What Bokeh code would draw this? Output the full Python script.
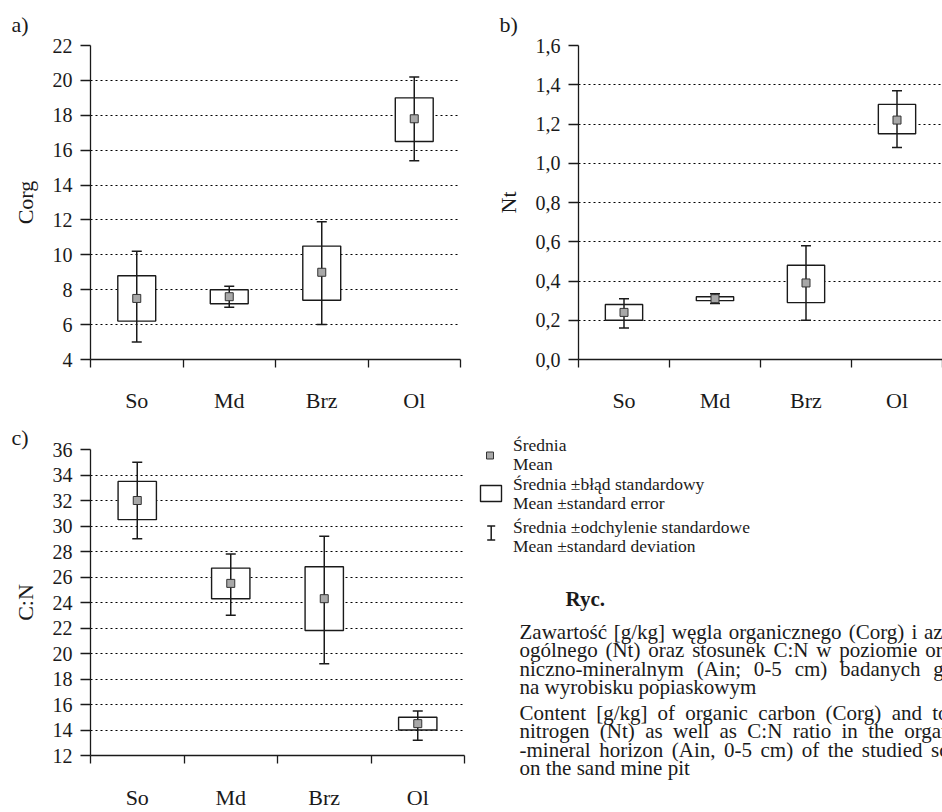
from bokeh.plotting import figure
from bokeh.models import (FactorRange, Range1d, LinearAxis, FixedTicker,
                          ColumnDataSource)
from bokeh.layouts import column, row
from bokeh.core.properties import value
from bokeh.embed import file_html
from bokeh.resources import INLINE

# ---------------- data ----------------
categories = ["So", "Md", "Brz", "Ol"]

corg_mean = [7.5, 7.6, 9.0, 17.8]
corg_se_low = [6.2, 7.2, 7.4, 16.5]
corg_se_high = [8.8, 8.0, 10.5, 19.0]
corg_sd_low = [5.0, 7.0, 6.0, 15.4]
corg_sd_high = [10.2, 8.2, 11.9, 20.2]

nt_mean = [0.24, 0.31, 0.39, 1.22]
nt_se_low = [0.20, 0.30, 0.29, 1.15]
nt_se_high = [0.28, 0.32, 0.48, 1.30]
nt_sd_low = [0.16, 0.285, 0.20, 1.08]
nt_sd_high = [0.31, 0.335, 0.58, 1.37]

cn_mean = [32.0, 25.5, 24.3, 14.5]
cn_se_low = [30.5, 24.3, 21.8, 14.0]
cn_se_high = [33.5, 26.7, 26.8, 15.0]
cn_sd_low = [29.0, 23.0, 19.2, 13.2]
cn_sd_high = [35.0, 27.8, 29.2, 15.5]

corg_ticks = [4, 6, 8, 10, 12, 14, 16, 18, 20, 22]
corg_tick_labels = ["4", "6", "8", "10", "12", "14", "16", "18", "20", "22"]
nt_ticks = [0.0, 0.2, 0.4, 0.6, 0.8, 1.0, 1.2, 1.4, 1.6]
nt_tick_labels = ["0,0", "0,2", "0,4", "0,6", "0,8", "1,0", "1,2", "1,4", "1,6"]
cn_ticks = [12, 14, 16, 18, 20, 22, 24, 26, 28, 30, 32, 34, 36]
cn_tick_labels = ["12", "14", "16", "18", "20", "22", "24", "26", "28", "30",
                  "32", "34", "36"]

legend_lines = ["Średnia", "Mean",
                "Średnia ±błąd standardowy", "Mean ±standard error",
                "Średnia ±odchylenie standardowe", "Mean ±standard deviation"]
caption_title = "Ryc."
caption_lines = [
    "Zawartość [g/kg] węgla organicznego (Corg) i azotu",
    "ogólnego (Nt) oraz stosunek C:N w poziomie orga-",
    "niczno-mineralnym (Ain; 0-5 cm) badanych gleb",
    "na wyrobisku popiaskowym",
    "Content [g/kg] of organic carbon (Corg) and total",
    "nitrogen (Nt) as well as C:N ratio in the organo-",
    "-mineral horizon (Ain, 0-5 cm) of the studied soils",
    "on the sand mine pit",
]
caption_justified = [True, True, True, False, True, True, True, False]

FONT = "Liberation Serif"
INK = "#1a1a1a"

# Times-compatible advance widths (1/1000 em) used to justify the caption
_W = {" ": 250, "(": 333, ")": 333, ",": 250, "-": 333, ".": 250, "/": 278,
      ":": 278, ";": 278, "[": 333, "]": 333, "±": 564,
      "A": 722, "C": 667, "N": 722, "Z": 611, "Ś": 556,
      "a": 444, "b": 500, "c": 444, "d": 500, "e": 444, "f": 333, "g": 500,
      "h": 500, "i": 278, "j": 278, "k": 500, "l": 278, "m": 778, "n": 500,
      "o": 500, "p": 500, "q": 500, "r": 333, "s": 389, "t": 278, "u": 500,
      "v": 500, "w": 722, "x": 500, "y": 500, "z": 444,
      "ą": 444, "ę": 444, "ś": 389, "ć": 444, "ł": 278, "ó": 500, "ż": 444,
      "ź": 444, "ń": 500}


def text_width(s, size):
    return sum(_W.get(ch, 500) for ch in s) * size / 1000.0


def make_panel(mean, se_lo, se_hi, sd_lo, sd_hi, yticks, ylabels, ylabel,
               yrange, width, height, borders, cat_standoff, letter,
               letter_standoff):
    L, R, T, B = borders
    p = figure(width=width, height=height,
               x_range=FactorRange(factors=categories),
               y_range=Range1d(*yrange),
               x_axis_type=None, toolbar_location=None, output_backend="svg",
               min_border_left=L, min_border_right=R,
               min_border_top=T, min_border_bottom=B)
    p.frame_align = False
    p.outline_line_color = None
    p.background_fill_color = "white"
    p.border_fill_color = "white"

    src = ColumnDataSource(dict(cat=categories, mean=mean, se_lo=se_lo,
                                se_hi=se_hi, sd_lo=sd_lo, sd_hi=sd_hi))
    p.vbar(x="cat", width=0.41, bottom="se_lo", top="se_hi", source=src,
           fill_color="white", line_color=INK, line_width=1.4)
    p.segment(x0="cat", y0="sd_lo", x1="cat", y1="sd_hi", source=src,
              line_color=INK, line_width=1.5)
    p.scatter(x="cat", y="sd_lo", marker="dash", size=10, source=src,
              line_color=INK, line_width=1.5)
    p.scatter(x="cat", y="sd_hi", marker="dash", size=10, source=src,
              line_color=INK, line_width=1.5)
    p.scatter(x="cat", y="mean", marker="square", size=8, source=src,
              fill_color="#a8a8a8", line_color="#333333", line_width=1)

    # y axis
    yax = p.yaxis[0]
    yax.ticker = FixedTicker(ticks=yticks)
    yax.major_label_overrides = dict(zip(yticks, ylabels))
    yax.axis_label = ylabel
    yax.axis_label_text_font = FONT
    yax.axis_label_text_font_size = "22px"
    yax.axis_label_text_font_style = "normal"
    yax.axis_label_text_color = INK
    yax.axis_label_standoff = 12
    yax.major_label_text_font = FONT
    yax.major_label_text_font_size = "20px"
    yax.major_label_text_color = INK
    yax.major_label_standoff = 8
    yax.major_tick_out = 10
    yax.major_tick_in = 0
    yax.minor_tick_out = 0
    yax.minor_tick_in = 0
    yax.axis_line_color = INK
    yax.axis_line_width = 1.3
    yax.major_tick_line_color = INK
    yax.major_tick_line_width = 1.3

    # x axis: labels at category centres, ticks at category boundaries
    centers = [i + 0.5 for i in range(len(categories))]
    bounds = [float(i) for i in range(len(categories) + 1)]
    xax = LinearAxis(ticker=FixedTicker(ticks=centers, minor_ticks=bounds),
                     major_label_overrides=dict(zip(centers, categories)))
    xax.major_label_text_font = FONT
    xax.major_label_text_font_size = "22px"
    xax.major_label_text_color = INK
    xax.major_label_standoff = cat_standoff
    xax.major_tick_out = 0
    xax.major_tick_in = 0
    xax.minor_tick_out = 8
    xax.minor_tick_in = 0
    xax.minor_tick_line_color = INK
    xax.minor_tick_line_width = 1.3
    xax.axis_line_color = INK
    xax.axis_line_width = 1.3
    p.add_layout(xax, "below")

    g = p.ygrid[0]
    g.grid_line_color = "#000000"
    g.grid_line_width = 1.2
    g.grid_line_dash = "2 3"

    # panel letter as the figure title
    p.title.text = letter
    p.title.align = "left"
    p.title.offset = -79
    p.title.standoff = letter_standoff
    p.title.text_font = FONT
    p.title.text_font_size = "22px"
    p.title.text_font_style = "normal"
    p.title.text_color = INK
    return p


pa = make_panel(corg_mean, corg_se_low, corg_se_high, corg_sd_low, corg_sd_high,
                corg_ticks, corg_tick_labels, "Corg", (4, 22),
                470, 415, (90, 10, 44, 53), 20, "a)", 18)
pb = make_panel(nt_mean, nt_se_low, nt_se_high, nt_sd_low, nt_sd_high,
                nt_ticks, nt_tick_labels, "Nt", (0, 1.6),
                472, 415, (108, 0, 44, 53), 20, "b)", 18)
pc = make_panel(cn_mean, cn_se_low, cn_se_high, cn_sd_low, cn_sd_high,
                cn_ticks, cn_tick_labels, "C:N", (12, 36),
                470, 397, (90, 6, 34, 45), 21, "c)", 0)

# ---------------- legend + caption ----------------
LW, LH = 472, 397
leg = figure(width=LW, height=LH, x_range=Range1d(0, LW), y_range=Range1d(LH, 0),
             x_axis_type=None, y_axis_type=None, toolbar_location=None,
             output_backend="svg",
             min_border_left=0, min_border_right=0,
             min_border_top=0, min_border_bottom=0)
leg.frame_align = False
leg.outline_line_color = None

# legend symbols
leg.scatter(x=[19.5], y=[40], marker="square", size=7, fill_color="#a8a8a8",
            line_color="#333333", line_width=1)
leg.rect(x=[20.5], y=[78], width=21, height=16, fill_color="white",
         line_color=INK, line_width=1.4)
leg.segment(x0=[20.7], y0=[110.5], x1=[20.7], y1=[124.5], line_color=INK,
            line_width=1.5)
leg.scatter(x=[20.7, 20.7], y=[110.5, 124.5], marker="dash", size=8,
            line_color=INK, line_width=1.5)

leg_y = [29.5, 48, 68.5, 87.7, 111, 130]
leg.text(x=[42.5] * len(legend_lines), y=leg_y, text=legend_lines,
         text_font=value(FONT), text_font_size="17.5px", text_color=INK,
         text_baseline="middle", text_align="left")

leg.text(x=[95], y=[183], text=[caption_title], text_font=value(FONT),
         text_font_size="21px", text_font_style="bold", text_color=INK,
         text_baseline="middle", text_align="left")

# justified caption, word by word (the column runs past the picture's edge)
CAP_SIZE = 21
CAP_X0 = 49
CAP_W = 450
cap_y = [216, 234.5, 253, 271.5, 297, 315.5, 334, 352.5]
wx, wy, wt = [], [], []
for line, yy, just in zip(caption_lines, cap_y, caption_justified):
    words = line.split(" ")
    natural = sum(text_width(w, CAP_SIZE) for w in words)
    gap = text_width(" ", CAP_SIZE)
    if just and len(words) > 1:
        gap = (CAP_W - natural) / (len(words) - 1)
    x = CAP_X0
    for w in words:
        wx.append(x)
        wy.append(yy)
        wt.append(w)
        x += text_width(w, CAP_SIZE) + gap
leg.text(x=wx, y=wy, text=wt, text_font=value(FONT),
         text_font_size=f"{CAP_SIZE}px", text_color=INK,
         text_baseline="middle", text_align="left")

layout = column(row(pa, pb), row(pc, leg))
open("out.html", "w").write(file_html(layout, INLINE))
